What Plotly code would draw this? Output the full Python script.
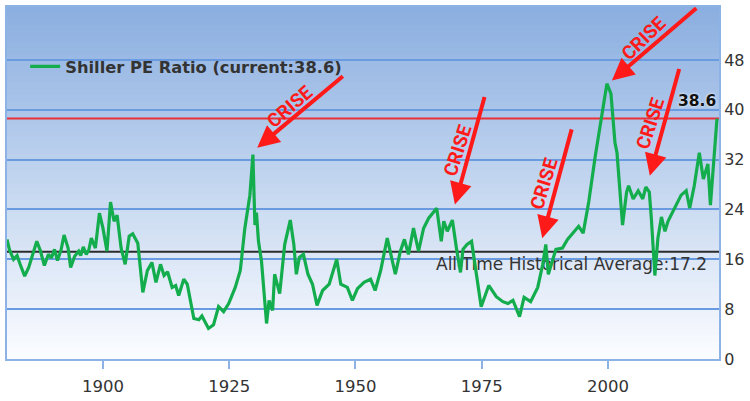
import plotly.graph_objects as go

# ---- data ----
years = [1881.0, 1881.5, 1882.3, 1883.0, 1883.6, 1884.5, 1885.3, 1886.0, 1886.9, 1887.6,
         1888.4, 1889.2, 1889.8, 1890.4, 1891.0, 1891.7, 1892.3, 1893.1, 1893.6, 1894.4,
         1895.2, 1895.6, 1896.1, 1896.7, 1897.2, 1897.7, 1898.5, 1899.3, 1900.0, 1900.8,
         1901.5, 1902.2, 1902.8, 1903.6, 1904.4, 1905.2, 1905.9, 1906.9, 1907.9, 1908.8,
         1909.7, 1910.5, 1911.4, 1912.1, 1912.8, 1913.7, 1914.4, 1915.0, 1916.0, 1916.7,
         1918.0, 1919.0, 1919.6, 1920.9, 1921.9, 1922.9, 1923.9, 1924.9, 1926.2, 1927.2,
         1928.1, 1929.1, 1929.7, 1929.9, 1930.1, 1930.4, 1930.8, 1931.4, 1932.4, 1932.9,
         1933.6, 1934.0, 1935.0, 1936.0, 1937.1, 1937.8, 1938.3, 1938.9, 1939.7, 1940.6,
         1941.5, 1942.4, 1943.5, 1944.8, 1946.3, 1947.1, 1948.4, 1949.4, 1950.4, 1951.7,
         1953.0, 1953.9, 1955.0, 1956.3, 1956.9, 1957.9, 1958.9, 1959.7, 1960.5, 1961.5,
         1962.5, 1963.5, 1964.5, 1965.4, 1966.1, 1967.0, 1967.5, 1968.2, 1969.2, 1970.0,
         1970.8, 1971.3, 1972.1, 1973.0, 1973.9, 1974.9, 1976.4, 1977.9, 1979.2, 1980.2,
         1981.2, 1982.5, 1983.4, 1984.7, 1986.1, 1987.1, 1987.7, 1988.2, 1989.7, 1991.0,
         1992.0, 1993.3, 1994.2, 1995.1, 1996.2, 1997.5, 1998.5, 1999.3, 1999.8, 2000.6,
         2001.4, 2001.8, 2002.4, 2002.9, 2003.7, 2004.1, 2005.0, 2006.0, 2006.9, 2007.5,
         2008.2, 2008.6, 2009.3, 2009.9, 2010.6, 2011.3, 2011.9, 2013.2, 2014.5, 2015.5,
         2016.2, 2017.1, 2018.1, 2018.9, 2019.8, 2020.3, 2020.9, 2021.6]
cape = [19.2, 17.5, 16.0, 16.6, 15.2, 13.3, 14.7, 16.5, 18.9, 17.4,
        15.0, 16.8, 16.2, 17.6, 15.8, 17.5, 19.9, 17.8, 14.7, 16.5,
        17.3, 16.6, 18.0, 16.8, 17.5, 19.4, 17.8, 23.4, 21.0, 17.3,
        25.2, 22.1, 23.1, 17.8, 15.2, 19.7, 20.1, 18.6, 10.7, 14.2,
        15.5, 12.3, 15.2, 13.4, 14.0, 11.5, 11.8, 10.2, 12.8, 12.0,
        6.5, 6.3, 6.9, 4.9, 5.5, 8.4, 7.6, 8.9, 11.5, 14.2,
        21.0, 26.3, 32.8, 27.0, 21.5, 23.5, 18.9, 15.7, 5.7, 9.4,
        7.8, 13.6, 10.5, 18.4, 22.3, 18.4, 13.6, 16.3, 16.8, 13.6,
        12.0, 8.6, 11.0, 12.0, 16.0, 12.0, 11.5, 9.4, 11.3, 12.3,
        12.8, 11.0, 14.2, 19.4, 17.3, 13.6, 17.3, 19.2, 16.8, 21.0,
        17.3, 21.0, 22.6, 23.6, 24.2, 18.9, 22.1, 20.5, 22.3, 17.8,
        13.9, 17.6, 18.4, 18.9, 14.2, 8.4, 11.8, 10.0, 9.2, 8.9,
        9.4, 6.8, 9.9, 9.2, 11.5, 15.2, 18.4, 13.6, 17.6, 17.8,
        19.2, 20.5, 21.3, 20.2, 25.2, 32.6, 37.6, 42.0, 44.2, 42.6,
        34.7, 33.1, 25.7, 21.5, 26.8, 27.8, 25.7, 27.0, 25.7, 27.6,
        26.8, 22.6, 13.4, 19.4, 22.8, 20.5, 22.1, 24.2, 26.3, 27.0,
        24.2, 27.8, 33.1, 28.9, 31.3, 24.7, 31.0, 38.6]

current_value = 38.6
historical_avg = 17.2
series_name = "Shiller PE Ratio (current:38.6)"
avg_label = "All-Time Historical Average:17.2"
y_ticks = [0, 8, 16, 24, 32, 40, 48]
x_ticks = [1900, 1925, 1950, 1975, 2000]

# crisis arrows: (head_year, head_val, tail_year, tail_val)
crisis_arrows = [
    (1930.55, 33.9, 1947.8, 45.6),
    (1969.7, 24.8, 1975.65, 42.3),
    (1987.0, 19.4, 1992.9, 37.1),
    (2000.8, 44.7, 2017.8, 56.5),
    (2008.3, 29.4, 2014.2, 46.8),
]
# crisis label positions: (year, val, angle)
crisis_labels = [
    (1937.0, 40.6, -41),
    (1970.2, 33.5, -72),
    (1987.4, 28.1, -73),
    (2007.0, 51.5, -44),
    (2008.4, 37.8, -72),
]
crisis_text = "CRISE"

GREEN = "#14ad4e"
GRID = "#6a9ae0"
AXIS = "#8db3e6"

fig = go.Figure()

# average label drawn under the line
fig.add_trace(go.Scatter(
    x=[1992.8], y=[15.0], mode="text", text=[avg_label],
    textfont=dict(family="DejaVu Sans", size=17, color="#333333"),
    showlegend=False, hoverinfo="skip"))

fig.add_trace(go.Scatter(
    x=years, y=cape, mode="lines", name=series_name,
    line=dict(color=GREEN, width=3.2)))

# gradient background (each band overlaps the rest above it: no seams)
N = 60
top = (138, 174, 224)
bot = (252, 253, 255)
shapes = []
for i in range(N):
    t = (i + 0.5) / N  # 0 bottom -> 1 top
    c = tuple(int(round(bot[k] + (top[k] - bot[k]) * t)) for k in range(3))
    shapes.append(dict(type="rect", xref="paper", yref="paper",
                       x0=0, x1=1, y0=i / N, y1=1,
                       fillcolor="rgb(%d,%d,%d)" % c, line=dict(width=0),
                       layer="below"))
shapes.append(dict(type="line", xref="paper", yref="y", x0=0, x1=1,
                   y0=current_value, y1=current_value,
                   line=dict(color="#ea3038", width=2), layer="between"))
shapes.append(dict(type="line", xref="paper", yref="y", x0=0, x1=1,
                   y0=historical_avg, y1=historical_avg,
                   line=dict(color="#2b2b2b", width=2), layer="between"))

annotations = []
for hx, hy, tx, ty in crisis_arrows:
    annotations.append(dict(x=hx, y=hy, ax=tx, ay=ty, xref="x", yref="y",
                            axref="x", ayref="y", text="", showarrow=True,
                            arrowhead=2, arrowsize=1.1, arrowwidth=4,
                            arrowcolor="#ff1a1a", standoff=0))
for lx, ly, ang in crisis_labels:
    annotations.append(dict(x=lx, y=ly, xref="x", yref="y", text=crisis_text,
                            showarrow=False, textangle=ang,
                            font=dict(family="Roboto", size=19, color="#ff1a1a",
                                      weight="bold")))
annotations.append(dict(x=2017.7, y=41.4, xref="x", yref="y",
                        text="<b>%.1f</b>" % current_value, showarrow=False,
                        font=dict(family="DejaVu Sans", size=15.5, color="#111111",
                                  shadow="0px 0px 3px white")))

fig.update_layout(
    width=750, height=401,
    margin=dict(l=5, r=27, t=5, b=38),
    paper_bgcolor="white", plot_bgcolor="rgba(0,0,0,0)",
    shapes=shapes, annotations=annotations,
    showlegend=True,
    legend=dict(x=0.0255, y=0.88, xanchor="left", yanchor="top",
                bgcolor="rgba(0,0,0,0)", borderwidth=0,
                font=dict(family="DejaVu Sans", size=16.3, color="#333333",
                          weight="bold")),
    xaxis=dict(range=[1881, 2022], tickvals=x_ticks, showgrid=False,
               zeroline=False, showline=True, linecolor=AXIS, linewidth=2,
               mirror=True, ticks="outside", ticklen=8, tickwidth=2,
               tickcolor=AXIS, ticklabelstandoff=3,
               tickfont=dict(family="DejaVu Sans", size=16.5, color="#333333")),
    yaxis=dict(range=[0, 56.5], tickvals=y_ticks, side="right",
               showgrid=True, gridcolor=GRID, gridwidth=1.5,
               zeroline=False, showline=True, linecolor=AXIS, linewidth=2,
               mirror=True, ticks="",
               tickfont=dict(family="DejaVu Sans", size=16, color="#333333")),
)

fig.write_html("out.html")
